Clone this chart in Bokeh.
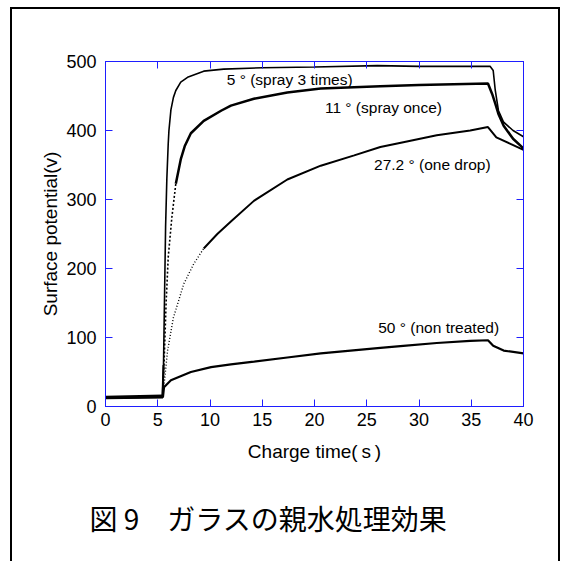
from bokeh.plotting import figure
from bokeh.models import LinearAxis, FixedTicker, CustomJSTickFormatter, Title, Range1d
from bokeh.core.properties import value
from bokeh.embed import file_html
from bokeh.resources import INLINE

# ---- data ----
t5 = [0, 5.45, 5.55, 5.65, 5.75, 5.87, 6.0, 6.07, 6.26, 6.5, 6.73, 7.2, 7.85, 9.4, 11.3, 15, 20, 26, 30, 36.8, 37.1, 37.3, 37.6, 38.1, 39.0, 40]
v5 = [13, 14, 60, 160, 260, 330, 380, 400, 430, 448, 458, 470, 477, 486, 489, 491, 492, 494, 493, 493, 487, 458, 429, 412, 400, 391]

t11 = [0, 5.5, 5.6, 5.8, 6.0, 6.35, 6.73, 7.2, 7.6, 8.17, 9.4, 11.1, 12, 14.2, 17.4, 20.6, 26.3, 30, 36.6, 37.0, 37.3, 37.6, 38.1, 39.0, 40]
v11 = [12, 13, 60, 150, 216, 274, 323, 358, 378, 396, 414, 429, 436, 446, 455, 461, 464, 466, 468, 453, 439, 424, 407, 388, 374]

t27 = [0, 5.5, 5.94, 6.5, 7.5, 8.45, 9.4, 10.7, 12, 14.2, 17.4, 20.6, 23.8, 26.3, 28.5, 31.7, 34.9, 36.6, 37.4, 38.7, 40]
v27 = [14, 16, 81, 129, 178, 207, 229, 250, 268, 298, 329, 349, 364, 376, 383, 393, 400, 405, 390, 381, 372]

t50 = [0, 5.5, 5.6, 6.26, 8.17, 10.1, 12, 14.2, 17.4, 20.6, 26.3, 28.5, 31.7, 34.9, 36.6, 37.1, 38.1, 40]
v50 = [13, 14, 28, 38, 50, 57, 61, 65, 71, 77, 85, 88, 92, 95, 96, 88, 81, 77]

labels = ["5 ° (spray 3 times)", "11 ° (spray once)", "27.2 ° (one drop)", "50 ° (non treated)"]
label_t = [11.6, 21.0, 25.7, 26.1]
label_v = [474, 434, 351, 115]

x_ticks = [0, 5, 10, 15, 20, 25, 30, 35, 40]
y_ticks = [0, 100, 200, 300, 400, 500]

BLUE = "#1e1eff"
FONT = "Liberation Sans"

p = figure(frame_width=418, frame_height=345,
           min_border_left=93, min_border_right=35, min_border_top=52, min_border_bottom=155,
           x_range=Range1d(0, 40), y_range=Range1d(0, 500),
           output_backend="svg", toolbar_location=None,
           background_fill_color="white", border_fill_color="white")
p.styles = {"border-top": "2px solid black", "border-left": "2px solid black",
            "border-right": "2px solid black", "margin-left": "10px", "margin-top": "7px"}
p.grid.visible = False
p.outline_line_color = BLUE
p.outline_line_width = 1

for ax, ticks in ((p.xaxis[0], x_ticks), (p.yaxis[0], y_ticks)):
    ax.ticker = FixedTicker(ticks=ticks)
    ax.axis_line_color = BLUE
    ax.major_tick_line_color = BLUE
    ax.major_tick_in = 7
    ax.major_tick_out = 0
    ax.minor_tick_line_color = None
    ax.major_label_text_font = FONT
    ax.major_label_text_font_size = "18px"
    ax.major_label_text_color = "black"
    ax.axis_label_text_font = "Liberation Sans, Noto Sans CJK JP"
    ax.axis_label_text_font_size = "19px"
    ax.axis_label_text_font_style = "normal"
    ax.axis_label_text_color = "black"

p.xaxis[0].axis_label = "Charge time(\u2009s\u2009)"
p.yaxis[0].axis_label = "Surface potential(v)"
p.xaxis[0].major_label_standoff = 6
p.yaxis[0].major_label_standoff = 9
p.xaxis[0].axis_label_standoff = 12
p.yaxis[0].axis_label_standoff = 2

blank = CustomJSTickFormatter(code="return ''")
top = LinearAxis(ticker=FixedTicker(ticks=x_ticks), formatter=blank)
right = LinearAxis(ticker=FixedTicker(ticks=y_ticks), formatter=blank)
for ax in (top, right):
    ax.axis_line_color = BLUE
    ax.major_tick_line_color = BLUE
    ax.major_tick_in = 7
    ax.major_tick_out = 0
    ax.minor_tick_line_color = None
    ax.major_label_standoff = 0
p.add_layout(top, "above")
p.add_layout(right, "right")

# curves
p.line(t5[:3], v5[:3], line_color="black", line_width=2)
p.line(t5[1:], v5[1:], line_color="black", line_width=1.6)
p.line(t11[:2], v11[:2], line_color="black", line_width=2)
p.line(t11[1:7], v11[1:7], line_color="black", line_width=1.6, line_dash="2 2")
p.line(t11[6:], v11[6:], line_color="black", line_width=2.5)
p.line(t27[:2], v27[:2], line_color="black", line_width=2)
p.line(t27[1:7], v27[1:7], line_color="black", line_width=1.4, line_dash="1 2")
p.line(t27[6:], v27[6:], line_color="black", line_width=2)
p.line(t50, v50, line_color="black", line_width=2.2)

p.text(x=label_t, y=label_v, text=labels, text_font=value(FONT), text_font_size="15.5px",
       text_baseline="middle", text_align="left", text_color="black")

title = Title(text="図 9\u3000ガラスの親水処理効果", align="left", offset=-16,
              text_font="Noto Sans CJK JP", text_font_size="28px",
              text_font_style="normal", text_color="black", standoff=63)
p.add_layout(title, "below")

open("out.html", "w").write(file_html(p, INLINE))
